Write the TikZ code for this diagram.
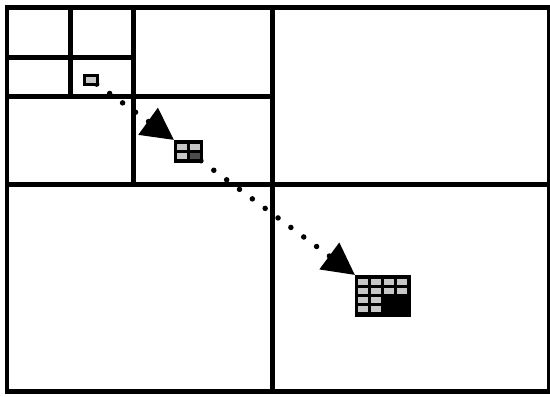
\documentclass[tikz,border=0pt]{standalone}
\usepackage{tikz}
\usetikzlibrary{arrows.meta}

\begin{document}
\begin{tikzpicture}[x=0.02cm,y=-0.02cm,
 wall/.style={line width=0.1cm},
 blockbox/.style={fill=black,inner sep=0pt,outer sep=0pt},
 trail/.style={line width=0.11cm,line cap=round,dash pattern=on 0pt off 0.32cm,-{Triangle[length=0.64cm,width=0.64cm]}},
 cell/.style={fill=black!22}]
\useasboundingbox(0,0)rectangle(550,396);
\draw[wall](7,7)rectangle(549,391);
\draw[wall](272,7)--(272,391);
\draw[wall](7,184)--(549,184);
\draw[wall](133,7)--(133,184);
\draw[wall](7,96)--(272,96);
\draw[wall](70,7)--(70,96);
\draw[wall](7,57)--(133,57);
\node[blockbox,minimum width=0.32cm,minimum height=0.24cm](lvlone)at(91,80){};
\node[blockbox,minimum width=0.58cm,minimum height=0.46cm](lvltwo)at(188.5,151.5){};
\node[blockbox,minimum width=1.12cm,minimum height=0.84cm](lvlthree)at(383,296){};
\draw[trail,dash phase=0.18cm](lvlone.center)--(lvltwo.north west);
\draw[trail,dash phase=0.01cm](lvltwo.center)--(lvlthree.north west);
\fill[cell]([shift={(3,3)}]lvlone.north west)rectangle+(10,6);
\foreach \i/\j in {0/0,1/0,0/1}
  \fill[cell]([shift={(3+13*\i,4+9*\j)}]lvltwo.north west)rectangle+(10,5.5);
\fill[black!70]([shift={(16,13)}]lvltwo.north west)rectangle+(10,5.5);
\foreach \i/\j in {0/0,1/0,2/0,3/0,0/1,1/1,2/1,3/1,0/2,1/2,0/3,1/3}
  \fill[cell]([shift={(3+13*\i,4+9*\j)}]lvlthree.north west)rectangle+(9.5,5.5);
\end{tikzpicture}
\end{document}
